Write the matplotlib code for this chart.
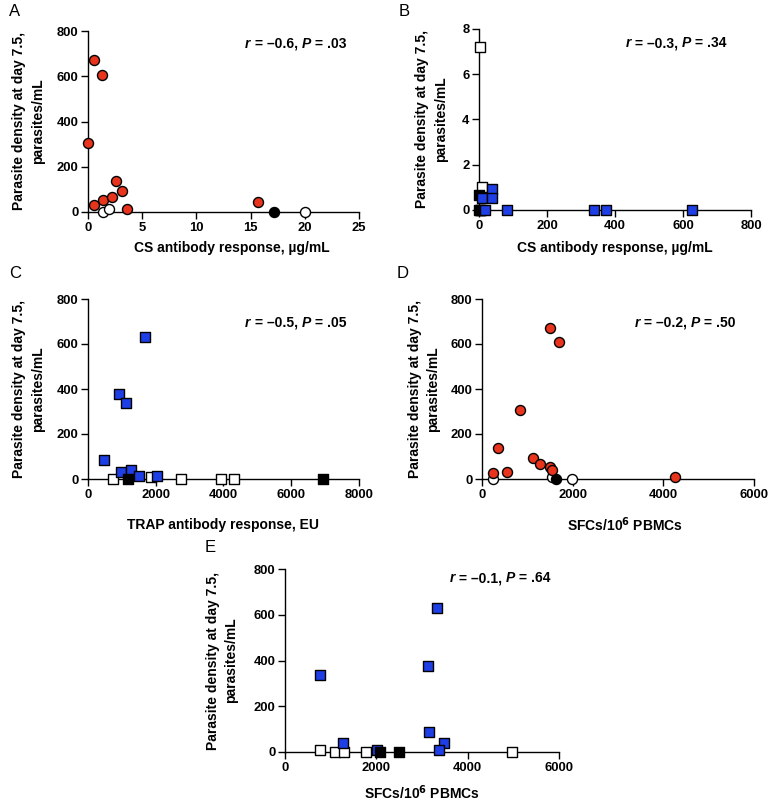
import matplotlib
matplotlib.use("Agg")
import matplotlib.pyplot as plt

plt.rcParams['font.family'] = ['Liberation Sans', 'DejaVu Sans']

RED = '#E8341C'
BLUE = '#1F3FE6'

# ---------------- data ----------------
# Panel A: CS antibody (ug/mL) vs parasite density
A_red_x = [0, 0.58, 1.29, 0.58, 1.35, 2.24, 2.58, 3.16, 3.62, 15.64]
A_red_y = [303, 670, 607, 31, 53, 68, 137, 93, 12, 44]
A_white_x = [1.41, 1.93, 20.0]
A_white_y = [0, 12, 0]
A_black_x = [17.15]
A_black_y = [0]

# Panel B
B_white_x = [2, 8]
B_white_y = [7.2, 1.0]
B_black_x = [0, 0, 3, 6]
B_black_y = [0.66, 0, 0, 0]
B_blue_x = [37, 10, 39, 17, 83, 338, 373, 626]
B_blue_y = [0.92, 0.55, 0.55, 0, 0, 0, 0, 0]

# Panel C: TRAP antibody (EU)
C_blue_x = [1688, 922, 1128, 481, 971, 1266, 1511, 2041]
C_blue_y = [630, 377, 340, 86, 33, 38, 12, 12]
C_white_x = [726, 1855, 2748, 3925, 4308]
C_white_y = [0, 9, 0, 0, 0]
C_black_x = [1178, 6928]
C_black_y = [0, 0]

# Panel D: SFCs/10^6 PBMCs
D_red_x = [1507, 1691, 831, 360, 1132, 235, 559, 1287, 1507, 1551, 4265]
D_red_y = [670, 607, 305, 138, 92, 25, 30, 65, 52, 40, 10]
D_white_x = [250, 1551, 1978]
D_white_y = [0, 9, 0]
D_black_x = [1640]
D_black_y = [0]

# Panel E: SFCs/10^6 PBMCs
E_blue_x = [3333, 3128, 760, 3158, 1272, 3487, 3377, 2018]
E_blue_y = [628, 375, 338, 86, 38, 39, 10, 10]
E_white_x = [768, 1089, 1294, 1769, 4978]
E_white_y = [10, 0, 0, 0, 0]
E_black_x = [2083, 2493]
E_black_y = [0, 0]

W, H = 771, 800
fig = plt.figure(figsize=(W / 100, H / 100), dpi=100)


def make_ax(l, r, t, b):
    return fig.add_axes([l / W, 1 - b / H, (r - l) / W, (b - t) / H])


YLAB = 'Parasite density at day 7.5,\nparasites/mL'
S = 52
FS_TICK = 9.4
FS_LAB = 10
FS_ANN = 10


def style(ax, xlim, xticks, ylim, yticks, xlabel, xlab_pos, ylab_x, ann, ann_pos, letter, letter_pos):
    ax.set_xlim(*xlim)
    ax.set_ylim(*ylim)
    ax.set_xticks(xticks)
    ax.set_yticks(yticks)
    for s in ['top', 'right']:
        ax.spines[s].set_visible(False)
    for s in ['left', 'bottom']:
        ax.spines[s].set_linewidth(1.0)
    ax.tick_params(direction='out', length=5, width=1.0, labelsize=FS_TICK, pad=2)
    for lab in ax.get_xticklabels() + ax.get_yticklabels():
        lab.set_fontweight('bold')
    ax.set_xlabel(xlabel, fontsize=FS_LAB, fontweight='bold')
    ax.xaxis.set_label_coords(*xlab_pos)
    ax.xaxis.label.set_va('center')
    ax.set_ylabel(YLAB, fontsize=FS_LAB, fontweight='bold', linespacing=1.45)
    ax.yaxis.set_label_coords(ylab_x, 0.5)
    ax.yaxis.label.set_va('center')
    # annotation r = ..., P = ...
    r_val, p_val = ann
    t1 = ax.text(ann_pos[0], ann_pos[1], 'r', transform=ax.transAxes, fontsize=FS_ANN,
                 fontweight='bold', fontstyle='italic', va='center', ha='left')
    t2 = ax.annotate(' = \u2013%s, ' % r_val, xy=(1, 0), xycoords=t1, fontsize=FS_ANN,
                     fontweight='bold', va='bottom', ha='left')
    t3 = ax.annotate('P', xy=(1, 0), xycoords=t2, fontsize=FS_ANN,
                     fontweight='bold', fontstyle='italic', va='bottom', ha='left')
    ax.annotate(' = %s' % p_val, xy=(1, 0), xycoords=t3, fontsize=FS_ANN,
                fontweight='bold', va='bottom', ha='left')
    fig.text(letter_pos[0] / W, 1 - letter_pos[1] / H, letter, fontsize=12,
             ha='left', va='center')


def pts(ax, x, y, marker, color, z=3):
    ax.scatter(x, y, s=S, marker=marker, facecolor=color, edgecolor='black',
               linewidth=1.0, clip_on=False, zorder=z)


# Panel A
axA = make_ax(88, 359, 31, 212)
pts(axA, A_white_x, A_white_y, 'o', 'white')
pts(axA, A_black_x, A_black_y, 'o', 'black')
pts(axA, A_red_x, A_red_y, 'o', RED)
style(axA, (0, 25), [0, 5, 10, 15, 20, 25], (0, 800), [0, 200, 400, 600, 800],
      'CS antibody response, \u00b5g/mL', (0.53, -0.2), -0.218, ('0.6', '.03'),
      (0.58, 0.93), 'A', (9, 12))

# Panel B
axB = make_ax(479, 751, 29, 210)
pts(axB, B_white_x, B_white_y, 's', 'white')
pts(axB, B_black_x, B_black_y, 's', 'black')
pts(axB, B_blue_x, B_blue_y, 's', BLUE)
style(axB, (0, 800), [0, 200, 400, 600, 800], (0, 8), [0, 2, 4, 6, 8],
      'CS antibody response, \u00b5g/mL', (0.50, -0.21), -0.173, ('0.3', '.34'),
      (0.54, 0.92), 'B', (399, 12))

# Panel C
axC = make_ax(88, 359, 299, 479)
pts(axC, C_white_x, C_white_y, 's', 'white')
pts(axC, C_blue_x, C_blue_y, 's', BLUE)
pts(axC, C_black_x, C_black_y, 's', 'black')
style(axC, (0, 8000), [0, 2000, 4000, 6000, 8000], (0, 800), [0, 200, 400, 600, 800],
      'TRAP antibody response, EU', (0.50, -0.256), -0.218, ('0.5', '.05'),
      (0.58, 0.867), 'C', (9, 274))

# Panel D
axD = make_ax(482, 754, 299, 479)
pts(axD, D_white_x, D_white_y, 'o', 'white')
pts(axD, D_black_x, D_black_y, 'o', 'black')
pts(axD, D_red_x, D_red_y, 'o', RED)
style(axD, (0, 6000), [0, 2000, 4000, 6000], (0, 800), [0, 200, 400, 600, 800],
      'SFCs/10$^{\\mathbf{6}}$ PBMCs', (0.526, -0.256), -0.213, ('0.2', '.50'),
      (0.56, 0.867), 'D', (397, 274))

# Panel E
axE = make_ax(285, 559, 569, 752)
pts(axE, E_white_x, E_white_y, 's', 'white')
pts(axE, E_blue_x, E_blue_y, 's', BLUE)
pts(axE, E_black_x, E_black_y, 's', 'black')
style(axE, (0, 6000), [0, 2000, 4000, 6000], (0, 800), [0, 200, 400, 600, 800],
      'SFCs/10$^{\\mathbf{6}}$ PBMCs', (0.50, -0.22), -0.23, ('0.1', '.64'),
      (0.60, 0.95), 'E', (205, 547))

fig.savefig('out.png', dpi=100, facecolor='white')
